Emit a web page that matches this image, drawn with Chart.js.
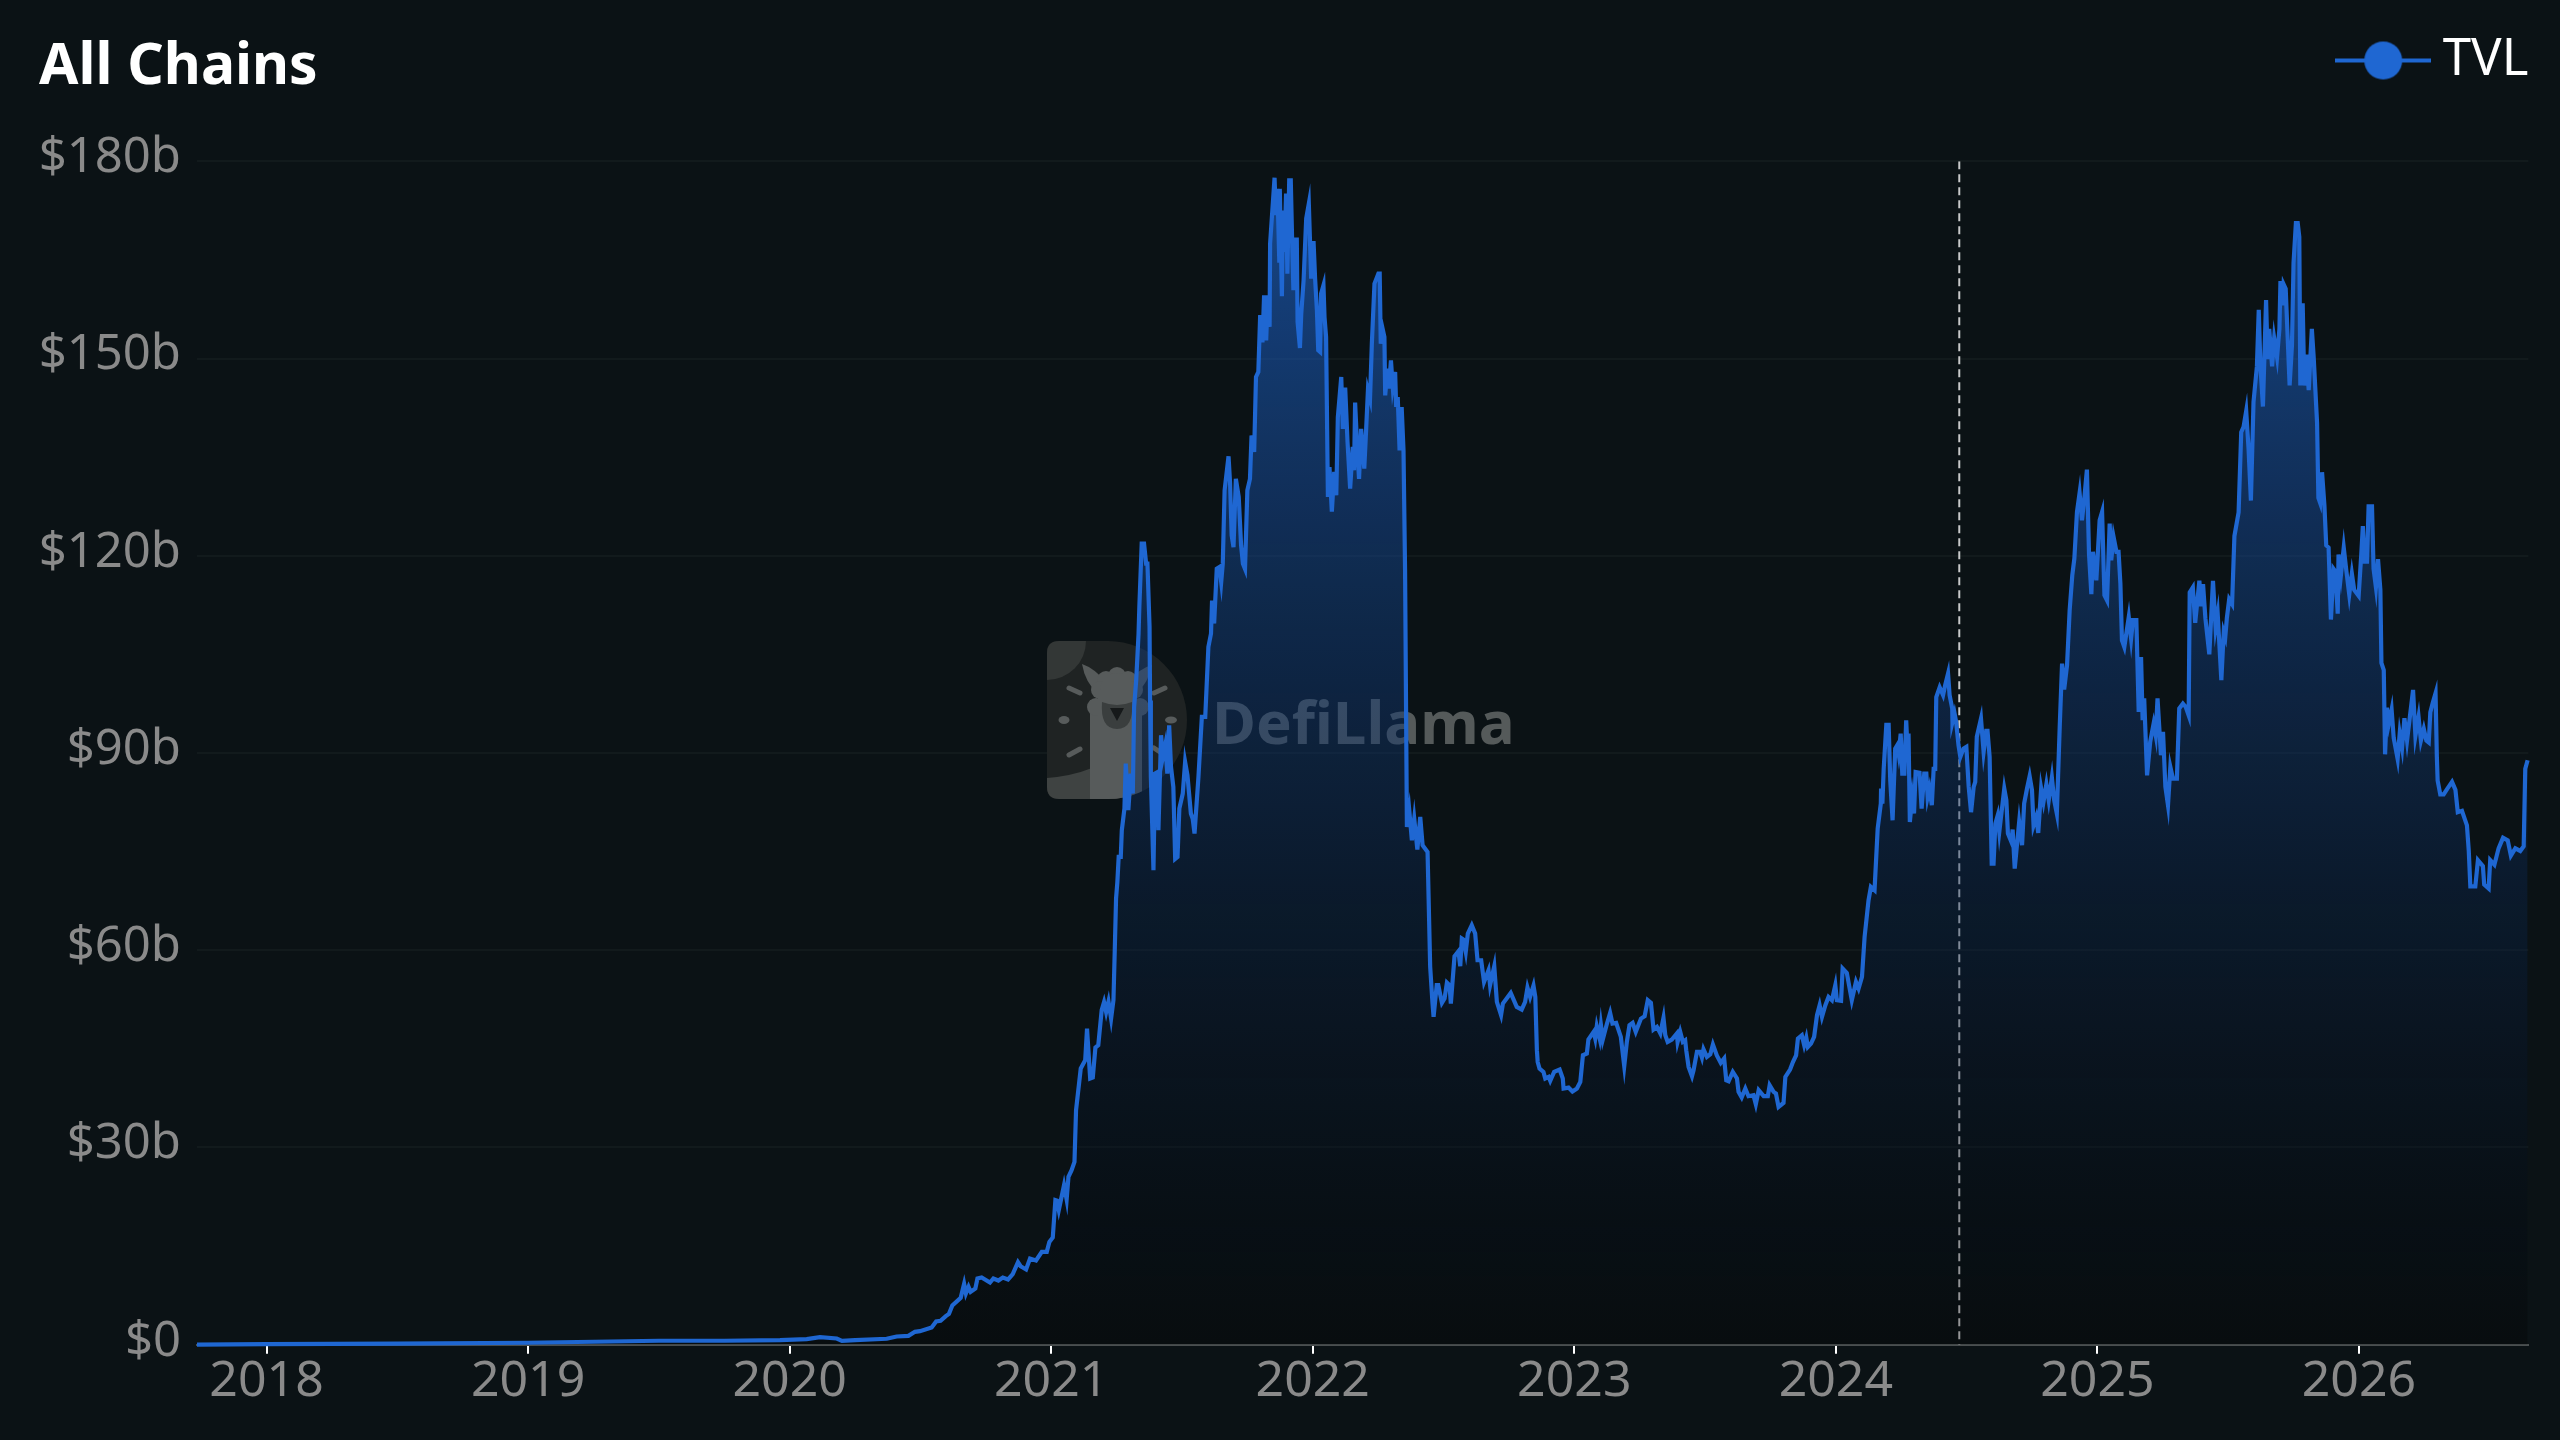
<!DOCTYPE html>
<html>
<head>
<meta charset="utf-8">
<title>All Chains TVL</title>
<script src="https://cdn.jsdelivr.net/npm/chart.js@4/dist/chart.umd.js"></script>
<style>
html,body{margin:0;padding:0;background:#0b1215;overflow:hidden}
canvas{display:block}
</style>
</head>
<body>
<canvas id="c" width="2560" height="1440"></canvas>
<script>
const titleText = 'All Chains';
const seriesName = 'TVL';
const xTickYears = [2018,2019,2020,2021,2022,2023,2024,2025,2026];
const yTickValues = [0,30,60,90,120,150,180];
const yTickLabels = ['$0','$30b','$60b','$90b','$120b','$150b','$180b'];
const markerYear = 2024.472;

// [decimal year, TVL in $ billions]
const tvlEarly = [[2017.734,0.02],[2018,0.1],[2018.5,0.15],[2019,0.3],[2019.25,0.45],[2019.5,0.6],[2019.75,0.6],[2019.963,0.69],[2020.065,0.84],[2020.116,1.15],[2020.18,0.94],[2020.2,0.59],[2020.25,0.69],[2020.371,0.9],[2020.409,1.25],[2020.454,1.35],[2020.479,1.96],[2020.498,2.06],[2020.543,2.62],[2020.56,3.53],[2020.577,3.63],[2020.597,4.34],[2020.609,4.69],[2020.622,5.96],[2020.654,7.13],[2020.667,9.26],[2020.674,7.79],[2020.684,8.8],[2020.692,8.04],[2020.71,8.55],[2020.718,10.07],[2020.734,10.22],[2020.766,9.46],[2020.779,10.07],[2020.798,9.76],[2020.815,10.22],[2020.835,9.92],[2020.853,10.73],[2020.873,12.55],[2020.883,11.94],[2020.904,11.44],[2020.919,13.11],[2020.942,12.81],[2020.964,14.12],[2020.983,14.12],[2020.993,15.64]];
const tvl2021 = [[2021.006,16.3],[2021.016,21.98],[2021.022,21.9],[2021.029,20.46],[2021.049,24.26],[2021.059,22.08],[2021.066,25.53],[2021.078,26.54],[2021.089,27.81],[2021.095,35.67],[2021.113,42.01],[2021.13,43.27],[2021.137,48.09],[2021.149,40.49],[2021.159,40.64],[2021.169,45.2],[2021.18,45.56],[2021.193,50.88],[2021.202,52.1],[2021.21,50.6],[2021.219,52.2],[2021.229,49.6],[2021.238,52.4],[2021.243,60],[2021.248,67.9],[2021.253,70.4],[2021.258,74.2],[2021.266,74.2],[2021.27,78.25],[2021.28,81.55],[2021.285,88.39],[2021.295,81.3],[2021.304,86.87],[2021.312,83.83],[2021.317,97],[2021.325,101.06],[2021.334,108.16],[2021.337,112.2],[2021.346,121.85],[2021.355,121.85],[2021.363,118.8],[2021.368,118.8],[2021.376,109.2],[2021.378,98],[2021.381,86.4],[2021.391,72.17],[2021.397,86.87],[2021.407,87.1],[2021.41,78.25],[2021.42,92.7],[2021.427,89.4],[2021.436,91.2],[2021.444,86.87],[2021.451,94.2],[2021.458,87.9],[2021.467,84.84],[2021.474,73.9],[2021.483,74.2],[2021.49,81.55],[2021.503,83.83],[2021.512,88.64],[2021.521,86.6],[2021.534,80.8],[2021.541,80],[2021.548,77.74],[2021.563,86.36],[2021.576,95.5],[2021.589,95.5],[2021.601,106.13],[2021.611,108.16],[2021.615,113.2],[2021.623,109.7],[2021.633,118.05],[2021.643,118.3],[2021.65,116],[2021.656,118.8],[2021.663,129.96],[2021.678,135.13],[2021.684,131],[2021.69,123.1],[2021.697,121.3],[2021.706,131.7],[2021.717,128.95],[2021.726,121.6],[2021.733,118.8],[2021.741,118],[2021.75,129.96],[2021.76,131.7],[2021.766,138.3],[2021.776,135.8],[2021.783,147.2],[2021.792,147.96],[2021.799,156.6],[2021.803,152.77],[2021.808,152.77],[2021.814,159.6],[2021.822,152.77],[2021.828,159.6],[2021.835,154.8],[2021.837,167.5],[2021.854,177.5],[2021.859,171.8],[2021.865,175.8],[2021.872,164.9],[2021.874,175.8],[2021.882,159.47],[2021.886,172.5],[2021.892,166.2],[2021.898,175.08],[2021.903,162.9],[2021.91,177.1],[2021.916,177.1],[2021.922,166.5],[2021.926,160.4],[2021.934,168.1],[2021.939,168.1],[2021.942,155.56],[2021.951,151.6],[2021.956,156.8],[2021.965,161.9],[2021.975,171.3],[2021.985,173.56],[2021.994,162.15]];
const tvl2022 = [[2022.003,167.88],[2022.009,162.15],[2022.016,157.3],[2022.021,151.25],[2022.028,151],[2022.032,159.87],[2022.041,161.14],[2022.045,156.3],[2022.051,153.28],[2022.058,128.95],[2022.064,133.5],[2022.073,126.7],[2022.082,132.75],[2022.09,129.2],[2022.096,141.1],[2022.109,147.2],[2022.115,139.3],[2022.124,145.57],[2022.133,137.3],[2022.143,130.2],[2022.153,136.55],[2022.158,133],[2022.162,143.3],[2022.168,138.07],[2022.177,131.7],[2022.185,139.3],[2022.197,133.26],[2022.204,139.08],[2022.211,145.17],[2022.219,143.9],[2022.226,152.26],[2022.236,161.4],[2022.251,162.9],[2022.256,162.9],[2022.26,152.26],[2022.267,154.55],[2022.274,153.28],[2022.277,144.4],[2022.286,148.46],[2022.291,145.42],[2022.299,149.73],[2022.306,145.67],[2022.315,147.96],[2022.319,142.63],[2022.325,144.15],[2022.332,136.04],[2022.34,142.63],[2022.347,136.04],[2022.353,117.8],[2022.36,78.76],[2022.369,81.29],[2022.379,76.73],[2022.388,80.03],[2022.4,75.31],[2022.411,80.28],[2022.42,75.97],[2022.439,74.96],[2022.449,57.47],[2022.458,51.89],[2022.462,49.86],[2022.474,54.68],[2022.48,54.68],[2022.494,52],[2022.504,52.65],[2022.513,55.08],[2022.523,54.68],[2022.528,51.89],[2022.542,59.09],[2022.557,59.85],[2022.564,57.57],[2022.57,61.78],[2022.576,61.62],[2022.585,59.75],[2022.593,62.54],[2022.608,63.8],[2022.621,62.54],[2022.63,58.48],[2022.644,58.48],[2022.655,55.18],[2022.672,56.96],[2022.678,54.68],[2022.694,57.57],[2022.704,52.14],[2022.72,50.12],[2022.727,51.89],[2022.757,53.51],[2022.78,51.38],[2022.799,50.98],[2022.812,52.14],[2022.821,54.32],[2022.831,52.9],[2022.844,54.63],[2022.851,52.9],[2022.857,44.8],[2022.86,43],[2022.867,42],[2022.882,41.5],[2022.889,40.5],[2022.902,40.74],[2022.908,40.13],[2022.923,41.5],[2022.944,41.85],[2022.956,40.5],[2022.959,38.96],[2022.978,39.1],[2022.993,38.5]];
const tvl2023 = [[2023.01,38.96],[2023.023,39.97],[2023.033,44.03],[2023.048,44.29],[2023.054,46.42],[2023.074,47.58],[2023.08,46.57],[2023.086,48.44],[2023.097,46.57],[2023.102,48.6],[2023.109,46.42],[2023.125,48.85],[2023.137,50.47],[2023.146,48.85],[2023.16,48.95],[2023.178,46.82],[2023.191,42.36],[2023.201,46.06],[2023.211,48.6],[2023.223,48.95],[2023.235,47.58],[2023.255,49.61],[2023.269,49.96],[2023.281,52.4],[2023.293,52],[2023.303,47.94],[2023.316,48.34],[2023.329,47.33],[2023.341,49.71],[2023.348,47.07],[2023.357,46.06],[2023.373,46.42],[2023.392,47.33],[2023.395,46.06],[2023.405,47.58],[2023.415,46.06],[2023.424,46.31],[2023.428,44.79],[2023.437,42.26],[2023.45,40.84],[2023.456,41.75],[2023.469,44.54],[2023.481,44.54],[2023.488,43.68],[2023.494,44.95],[2023.507,43.78],[2023.52,44.18],[2023.53,45.65],[2023.545,44],[2023.56,42.87],[2023.573,43.53],[2023.581,40.23],[2023.59,40.08],[2023.606,41.5],[2023.622,40.5],[2023.628,38.46],[2023.64,37.6],[2023.654,38.96],[2023.666,37.8],[2023.685,37.95],[2023.694,36.58],[2023.705,38.71],[2023.724,37.8],[2023.74,37.8],[2023.747,39.47],[2023.762,38.46],[2023.771,38.2],[2023.781,36.17],[2023.8,36.78],[2023.807,40.74],[2023.825,41.85],[2023.836,43],[2023.848,44],[2023.855,46.57],[2023.87,47.07],[2023.879,45.55],[2023.887,46.72],[2023.893,45.3],[2023.905,45.81],[2023.917,46.82],[2023.928,50.12],[2023.938,51.64],[2023.947,49.86],[2023.96,51.64],[2023.972,52.9],[2023.985,52.4],[2023.998,54.68]];
const tvl2024 = [[2024.004,52.4],[2024.02,52.3],[2024.026,57.21],[2024.042,56.55],[2024.061,52.4],[2024.077,55.18],[2024.087,54.17],[2024.1,55.94],[2024.11,62.03],[2024.125,67.6],[2024.134,69.63],[2024.148,69.13],[2024.16,78.5],[2024.172,82.3],[2024.173,84.6],[2024.178,82.3],[2024.183,87.6],[2024.193,94.3],[2024.202,94.3],[2024.208,85.86],[2024.217,79.77],[2024.227,90.67],[2024.235,91.2],[2024.24,89.9],[2024.248,92.95],[2024.254,86.87],[2024.262,86.87],[2024.269,94.98],[2024.276,88.9],[2024.278,92.95],[2024.283,79.5],[2024.292,83.3],[2024.299,80.8],[2024.305,87.1],[2024.32,87],[2024.328,81.55],[2024.338,86.87],[2024.346,86.87],[2024.351,83.3],[2024.358,84.6],[2024.367,82.05],[2024.374,87.6],[2024.38,87.6],[2024.384,98.5],[2024.397,100],[2024.41,98.8],[2024.418,100.3],[2024.429,102.08],[2024.435,98.8],[2024.445,96.76],[2024.446,94.7],[2024.454,96],[2024.46,94.7],[2024.469,91.2],[2024.476,89.4],[2024.488,90.67],[2024.499,90.93],[2024.508,84.84],[2024.517,81],[2024.527,84.84],[2024.533,85.6],[2024.539,92.45],[2024.555,95.24],[2024.565,90.17],[2024.575,93.36],[2024.58,93.36],[2024.588,89.4],[2024.596,73.18],[2024.603,73.18],[2024.61,79.27],[2024.619,80.53],[2024.625,78],[2024.644,84.6],[2024.652,82.8],[2024.658,77.74],[2024.671,76.48],[2024.676,78.35],[2024.684,72.42],[2024.701,79.52],[2024.712,75.97],[2024.72,82.3],[2024.731,84.6],[2024.741,86.47],[2024.75,84.34],[2024.756,79],[2024.766,80.28],[2024.774,77.85],[2024.785,84.6],[2024.794,82.56],[2024.805,85.25],[2024.814,82.8],[2024.826,86.26],[2024.835,82.8],[2024.845,80.78],[2024.856,93.97],[2024.865,103.6],[2024.873,99.65],[2024.884,103.35],[2024.894,111.7],[2024.904,117],[2024.912,119.57],[2024.922,126.67],[2024.932,129.56],[2024.941,125.4],[2024.95,128.7],[2024.96,133.1],[2024.968,120.3],[2024.977,114.15],[2024.983,120.6],[2024.996,116.27]];
const tvl2025 = [[2025.0086,125.4],[2025.018,126.67],[2025.027,114],[2025.037,113.2],[2025.047,124.9],[2025.053,119.3],[2025.062,122.87],[2025.073,120.6],[2025.081,120.6],[2025.088,115.77],[2025.094,107.15],[2025.103,106.13],[2025.12,110.7],[2025.129,107.4],[2025.136,110.2],[2025.149,110.2],[2025.158,96.25],[2025.167,104.6],[2025.173,95],[2025.179,98.3],[2025.19,86.6],[2025.202,91.7],[2025.215,94.47],[2025.223,92.7],[2025.23,98.3],[2025.243,89.66],[2025.251,93.2],[2025.26,84.84],[2025.27,82.05],[2025.279,87.9],[2025.289,86.1],[2025.304,86.1],[2025.313,96.76],[2025.327,97.5],[2025.338,97],[2025.349,95.74],[2025.353,114.45],[2025.365,115.2],[2025.374,109.8],[2025.39,116.2],[2025.396,112.3],[2025.404,115.7],[2025.413,110.5],[2025.428,105],[2025.442,116.2],[2025.452,109.1],[2025.46,111.2],[2025.474,101.1],[2025.483,108.4],[2025.489,107.65],[2025.495,110.5],[2025.504,113.4],[2025.515,112.66],[2025.524,123],[2025.54,126.6],[2025.55,138.8],[2025.559,139.6],[2025.569,142],[2025.578,136.3],[2025.587,128.4],[2025.597,143.4],[2025.61,148.8],[2025.617,157.4],[2025.623,149.2],[2025.633,142.7],[2025.645,158.9],[2025.651,149.9],[2025.657,154.5],[2025.668,148.8],[2025.676,153.1],[2025.687,150.2],[2025.696,154.5],[2025.7,161.8],[2025.708,158.1],[2025.712,161.3],[2025.72,160.6],[2025.727,153.8],[2025.735,145.9],[2025.744,152],[2025.75,164.5],[2025.759,170.6],[2025.766,170.6],[2025.772,168.5],[2025.776,145.9],[2025.785,158.4],[2025.791,145.9],[2025.799,150.6],[2025.808,145.2],[2025.82,154.5],[2025.827,150.2],[2025.84,140.2],[2025.845,128.8],[2025.852,128],[2025.859,132.7],[2025.868,127.7],[2025.875,121.6],[2025.884,121.25],[2025.893,110.3],[2025.903,118],[2025.91,117.6],[2025.919,111.2],[2025.922,120.2],[2025.931,117],[2025.942,121.25],[2025.952,117.7],[2025.963,114.1],[2025.973,117.3],[2025.982,114.8],[2025.999,113.9]];
const tvl2026 = [[2026.009,120.2],[2026.015,124.5],[2026.022,119.1],[2026.031,119.1],[2026.037,127.5],[2026.05,127.5],[2026.056,118],[2026.065,115.2],[2026.073,119.5],[2026.082,114.8],[2026.086,103.7],[2026.095,102.6],[2026.1,89.8],[2026.107,96.9],[2026.114,94.4],[2026.125,96.6],[2026.133,92.3],[2026.148,89.1],[2026.156,93],[2026.165,90.8],[2026.174,95.3],[2026.184,91.9],[2026.207,99.6],[2026.216,92.6],[2026.228,95.5],[2026.237,91.9],[2026.248,93.7],[2026.258,91.9],[2026.267,91.6],[2026.273,96.2],[2026.282,97.6],[2026.293,99.1],[2026.298,89.4],[2026.301,85.8],[2026.311,83.7],[2026.324,83.7],[2026.337,84.5],[2026.356,85.6],[2026.369,84.4],[2026.378,81],[2026.394,81.2],[2026.413,79],[2026.42,75.1],[2026.426,69.7],[2026.445,69.7],[2026.455,73.7],[2026.474,72.8],[2026.479,70],[2026.496,69.4],[2026.502,73.7],[2026.518,73],[2026.534,75.5],[2026.551,77.1],[2026.569,76.7],[2026.581,74.4],[2026.598,75.5],[2026.617,75.1],[2026.63,75.8],[2026.636,87.6],[2026.645,88.9]];

const xMin = 2017.734, xMax = 2026.648;
const tvlPoints = [...tvlEarly,...tvl2021,...tvl2022,...tvl2023,...tvl2024,...tvl2025,...tvl2026].map(p=>({x:p[0],y:p[1]}));

const LINE = '#1f67d2';
const BG = '#0b1215';
const FONT = '"Noto Sans"';

// legend swatch: line with a circle on it
const swatch = document.createElement('canvas');
swatch.width = 96; swatch.height = 40;
(function(){
  const s = swatch.getContext('2d');
  s.fillStyle = LINE;
  s.fillRect(0,18,96,4);
  s.beginPath(); s.arc(48,20,19,0,Math.PI*2); s.fill();
})();

function areaGradient(ctx){
  const {chart} = ctx;
  if(!chart.chartArea) return 'transparent';
  const y0 = chart.scales.y.getPixelForValue(177.5), y1 = chart.chartArea.bottom;
  const g = chart.ctx.createLinearGradient(0,y0,0,y1);
  g.addColorStop(0,'rgba(31,103,210,0.62)');
  g.addColorStop(1,'rgba(0,0,0,0.25)');
  return g;
}

const watermark = {
  id:'watermark',
  beforeDatasetsDraw(chart){
    const c = chart.ctx;
    c.save();
    // badge
    c.beginPath();
    c.moveTo(1059,641); c.lineTo(1108,641);
    c.arc(1108,720,79,-Math.PI/2,Math.PI/2);
    c.lineTo(1059,799);
    c.quadraticCurveTo(1047,799,1047,787);
    c.lineTo(1047,653);
    c.quadraticCurveTo(1047,641,1059,641);
    c.closePath();
    c.fillStyle='#1f2323'; c.fill();
    c.save(); c.clip();
    c.fillStyle='#333736';
    c.beginPath(); c.arc(1047,641,39,0,Math.PI*2); c.fill();
    c.fillStyle='#3f4342';
    c.beginPath(); c.moveTo(1047,778); c.quadraticCurveTo(1072,776,1092,768); c.lineTo(1145,800); c.lineTo(1047,800); c.closePath(); c.fill();
    c.fillStyle='#575b5b';
    c.fillRect(1090,700,52,100);
    c.restore();
    c.fillStyle='#575b5b';
    // ears
    c.beginPath(); c.moveTo(1082,664); c.quadraticCurveTo(1094,668,1106,682); c.lineTo(1098,694); c.quadraticCurveTo(1085,682,1082,664); c.fill();
    c.beginPath(); c.moveTo(1152,665); c.quadraticCurveTo(1140,668,1128,682); c.lineTo(1136,694); c.quadraticCurveTo(1149,682,1152,665); c.fill();
    // wool
    [[1117,676,9],[1106,680,9],[1128,680,9],[1100,690,9],[1134,690,9],[1117,690,17],[1096,707,9],[1140,707,9]].forEach(w=>{c.beginPath();c.arc(w[0],w[1],w[2],0,Math.PI*2);c.fill();});
    c.fillRect(1098,690,38,30);
    c.fillStyle='#3a3e3e';
    c.beginPath(); c.moveTo(1102,702); c.quadraticCurveTo(1117,708,1132,702); c.quadraticCurveTo(1134,729,1117,729); c.quadraticCurveTo(1100,729,1102,702); c.fill();
    c.fillStyle='#16191a';
    c.beginPath(); c.moveTo(1110,708); c.lineTo(1124,708); c.lineTo(1117,721); c.closePath(); c.fill();
    c.strokeStyle='#575b5b'; c.lineWidth=5; c.lineCap='round';
    [[1069,688,1080,693],[1069,755,1080,749],[1154,693,1165,688],[1154,748,1160,752]].forEach(r=>{c.beginPath();c.moveTo(r[0],r[1]);c.lineTo(r[2],r[3]);c.stroke();});
    c.fillStyle='#575b5b';
    c.beginPath(); c.ellipse(1064,720,5.5,4,0,0,Math.PI*2); c.fill();
    c.beginPath(); c.ellipse(1171,720,6,3.5,0,0,Math.PI*2); c.fill();
    // wordmark
    c.font='bold 60px '+FONT; c.textAlign='left'; c.textBaseline='alphabetic';
    c.fillStyle='#555a5a';
    c.fillText('DefiLlama',1212,744);
    c.restore();
  }
};

new Chart(document.getElementById('c'),{
  type:'line',
  data:{datasets:[
    {label:seriesName,data:tvlPoints,borderColor:LINE,backgroundColor:areaGradient,borderWidth:4.2,pointRadius:0,tension:0,fill:'origin',borderJoinStyle:'miter',clip:6},
    {label:'marker',data:[{x:markerYear,y:180},{x:markerYear,y:0}],borderColor:'#c9cacb',borderWidth:2,borderDash:[8,5],pointRadius:0,fill:false}
  ]},
  options:{
    responsive:false,animation:false,devicePixelRatio:1,
    layout:{padding:{left:39,right:31.6,top:35,bottom:0}},
    plugins:{
      tooltip:{enabled:false},
      title:{display:true,text:titleText,align:'start',color:'#ffffff',weight:500,
        font:{family:FONT,size:57,weight:'bold',lineHeight:1.2},padding:{top:-62,bottom:58.9}},
      legend:{display:true,position:'top',align:'end',weight:1000,
        labels:{color:'#ffffff',font:{family:FONT,size:51},padding:0,usePointStyle:true,pointStyleWidth:68,
          filter:i=>i.text===seriesName,
          generateLabels(){return [{text:seriesName,pointStyle:swatch,fontColor:'#ffffff',datasetIndex:0}];}}}
    },
    scales:{
      x:{type:'linear',min:xMin,max:xMax,
        afterBuildTicks(s){s.ticks=xTickYears.map(v=>({value:v}));},
        afterFit(s){s.height=95.3;},
        grid:{drawOnChartArea:false,drawTicks:true,tickLength:9,color:'#ffffff',lineWidth:2},
        border:{display:true,color:'#4a4f50',width:2},
        ticks:{color:'#8a8a8a',font:{family:FONT,size:50},padding:-2,autoSkip:false,maxRotation:0,callback:v=>String(v)}},
      y:{type:'linear',min:0,max:180,
        afterBuildTicks(s){s.ticks=yTickValues.map(v=>({value:v}));},
        afterFit(s){s.width=158;},
        grid:{color:'#121a1c',lineWidth:2,drawTicks:false},
        border:{display:false},
        ticks:{color:'#8a8a8a',font:{family:FONT,size:49,lineHeight:6/49},padding:16,
          callback:v=>[yTickLabels[yTickValues.indexOf(v)],'']}}
    }
  },
  plugins:[watermark]
});
</script>
</body>
</html>
